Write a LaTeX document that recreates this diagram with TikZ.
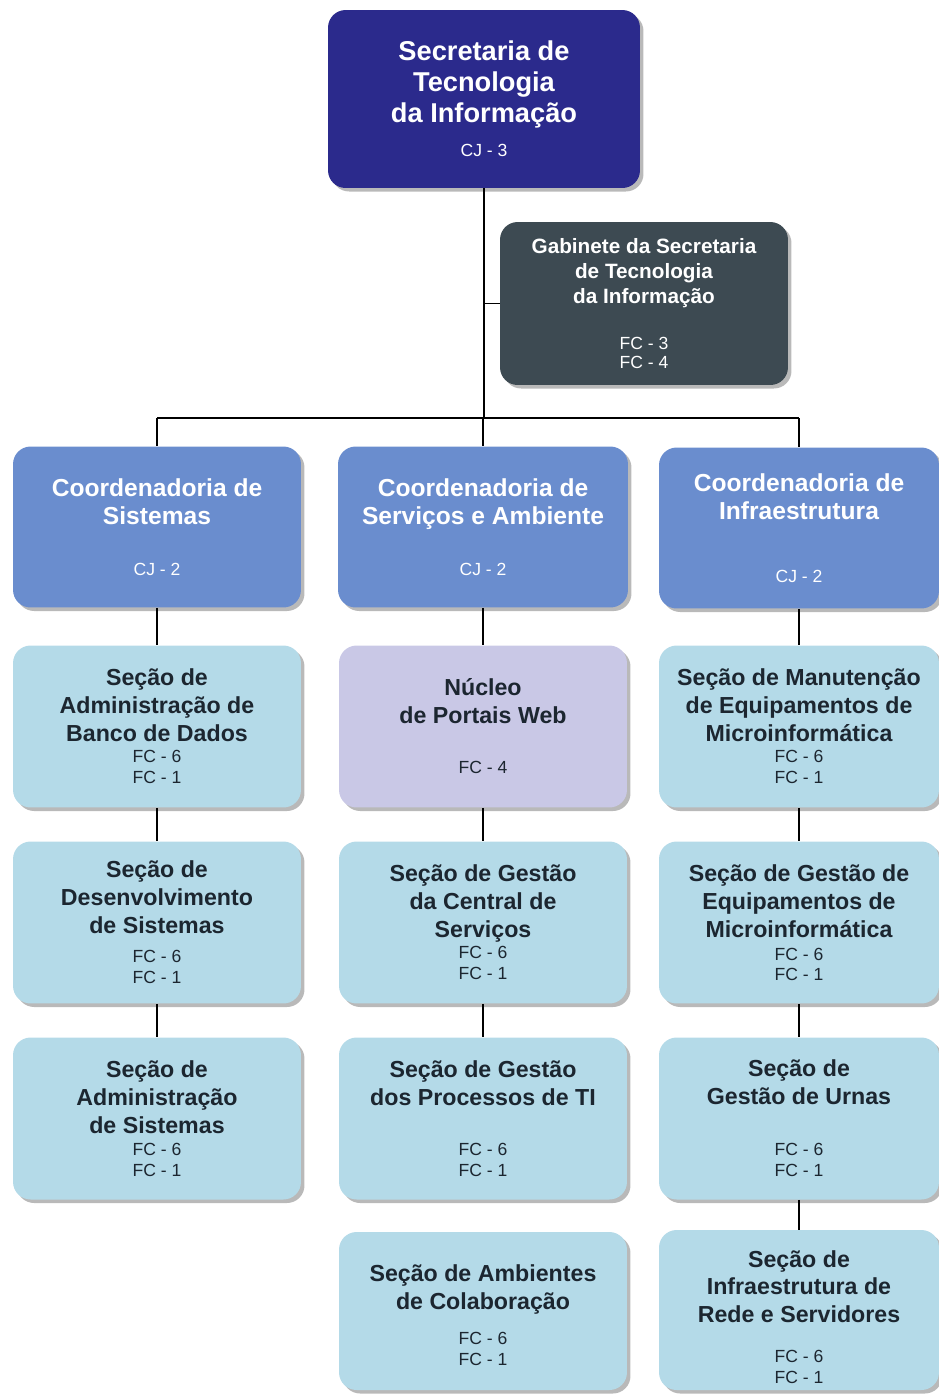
\documentclass[tikz,border=0pt]{standalone}
\usepackage{fontspec}
\setmainfont{Liberation Sans}
\usetikzlibrary{shadows}

\definecolor{stiblue}{RGB}{43,42,140}
\definecolor{gabgray}{RGB}{61,74,82}
\definecolor{coordblue}{RGB}{106,141,206}
\definecolor{secblue}{RGB}{180,218,232}
\definecolor{nucleolilac}{RGB}{201,200,230}
\definecolor{txtdark}{RGB}{28,38,48}

\newcommand{\fcsize}{\fontsize{10}{11.8}\selectfont\mdseries}

\tikzset{
  orgbox/.style={rectangle, rounded corners=10pt, align=center, inner sep=2pt,
    drop shadow={shadow xshift=2pt, shadow yshift=-2pt, fill=black!50, opacity=.55}},
  stibox/.style={orgbox, fill=stiblue, text=white, minimum width=6.24cm, minimum height=3.56cm,
    font=\fontsize{15.5}{17.6}\selectfont\bfseries},
  gabbox/.style={orgbox, fill=gabgray, text=white, minimum width=5.76cm, minimum height=3.26cm,
    font=\fontsize{11.8}{14.2}\selectfont\bfseries},
  coordbox/.style={orgbox, fill=coordblue, text=white, minimum width=5.76cm, minimum height=3.22cm,
    font=\fontsize{14}{15.9}\selectfont\bfseries},
  secbox/.style={orgbox, fill=secblue, text=txtdark, minimum width=5.76cm, minimum height=3.24cm,
    font=\fontsize{13.2}{15.9}\selectfont\bfseries},
  nucbox/.style={secbox, fill=nucleolilac},
  link/.style={draw=black, line width=0.9pt}
}

\begin{document}
\begin{tikzpicture}[x=0.02cm, y={(0cm,-0.02cm)}]

      \useasboundingbox (0,0) rectangle (938,1394);

      % top
      \node [stibox] (sti) at (484,99) {Secretaria de\\Tecnologia\\da Informação\\[2pt]\fcsize CJ - 3};

      \node [gabbox] (gab) at (644,303.5) {Gabinete da Secretaria\\de Tecnologia\\da Informação\\[11.8pt]\fcsize FC - 3\\[-3.4pt]\fcsize FC - 4};

      % coordenadorias
      \node [coordbox] (sis) at (157,527) {Coordenadoria de\\Sistemas\\[12.9pt]\fcsize CJ - 2};
      \node [coordbox, minimum width=5.8cm] (amb) at (483,527) {Coordenadoria de\\Serviços e Ambiente\\[12.9pt]\fcsize CJ - 2};
      \node [coordbox, minimum width=5.6cm] (inf) at (799,528) {Coordenadoria de\\Infraestrutura\\[19.7pt]\fcsize CJ - 2};

      % sistemas
      \node [secbox] (bd) at (157,726.5) {Seção de\\Administração de\\Banco de Dados\\[-3.9pt]\fcsize FC - 6\\[-4pt]\fcsize FC - 1};
      \node [secbox] (des) at (157,922.5) {Seção de\\Desenvolvimento\\de Sistemas\\[0.7pt]\fcsize FC - 6\\[-4pt]\fcsize FC - 1};
      \node [secbox] (adm) at (157,1118.5) {Seção de\\Administração\\de Sistemas\\[-3.3pt]\fcsize FC - 6\\[-4pt]\fcsize FC - 1};

      % servicos e ambiente
      \node [nucbox] (web) at (483,726.5) {Núcleo\\de Portais Web\\[12.6pt]\fcsize FC - 4};
      \node [secbox] (cen) at (483,922.5) {Seção de Gestão\\da Central de\\Serviços\\[-3.9pt]\fcsize FC - 6\\[-4pt]\fcsize FC - 1};
      \node [secbox] (pro) at (483,1118.5) {Seção de Gestão\\dos Processos de TI\\[12.6pt]\fcsize FC - 6\\[-4pt]\fcsize FC - 1};
      \node [secbox, minimum height=3.16cm] (col) at (483,1311) {\rule{0pt}{14pt}Seção de Ambientes\\de Colaboração\\[4.1pt]\fcsize FC - 6\\[-4pt]\fcsize FC - 1};

      % infraestrutura
      \node [secbox, minimum width=5.6cm] (man) at (799,726.5) {Seção de Manutenção\\de Equipamentos de\\Microinformática\\[-3.9pt]\fcsize FC - 6\\[-4pt]\fcsize FC - 1};
      \node [secbox, minimum width=5.6cm] (equ) at (799,922.5) {Seção de Gestão de\\Equipamentos de\\Microinformática\\[-2.7pt]\fcsize FC - 6\\[-4.5pt]\fcsize FC - 1};
      \node [secbox, minimum width=5.6cm] (urn) at (799,1118.5) {Seção de\\Gestão de Urnas\\[13.2pt]\fcsize FC - 6\\[-4pt]\fcsize FC - 1};
      \node [secbox, minimum width=5.6cm, minimum height=3.2cm] (red) at (799,1310) {\rule{0pt}{17.6pt}Seção de\\Infraestrutura de\\Rede e Servidores\\[6.8pt]\fcsize FC - 6\\[-4pt]\fcsize FC - 1};

      % links
      \coordinate (bus) at (484,418);
      \draw [link] (sti.south) -- (bus);
      \draw [link] (sti.south |- gab.west) -- (gab.west);
      \draw [link] (sis.north |- bus) -- (inf.north |- bus);
      \draw [link] (sis.north |- bus) -- (sis.north);
      \draw [link] (amb.north |- bus) -- (amb.north);
      \draw [link] (inf.north |- bus) -- (inf.north);

      \draw [link] (sis.south) -- (bd.north);
      \draw [link] (bd.south) -- (des.north);
      \draw [link] (des.south) -- (adm.north);

      \draw [link] (amb.south) -- (web.north);
      \draw [link] (web.south) -- (cen.north);
      \draw [link] (cen.south) -- (pro.north);

      \draw [link] (inf.south) -- (man.north);
      \draw [link] (man.south) -- (equ.north);
      \draw [link] (equ.south) -- (urn.north);
      \draw [link] (urn.south) -- (red.north);

\end{tikzpicture}
\end{document}
